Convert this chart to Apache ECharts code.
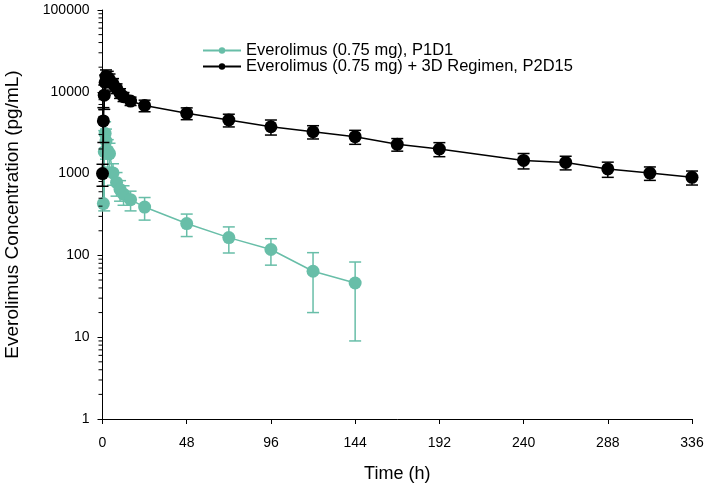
<!DOCTYPE html>
<html>
<head>
<meta charset="utf-8">
<script src="https://cdn.jsdelivr.net/npm/echarts@6/dist/echarts.min.js"></script>
<style>html,body{margin:0;padding:0;background:#fff;}#c{width:709px;height:492px;}</style>
</head>
<body>
<div id="c"></div>
<script>
// ---- data ----
const xTicks = [0, 48, 96, 144, 192, 240, 288, 336];
const yTickLabels = [1, 10, 100, 1000, 10000, 100000];
const minorMultipliers = [2, 3, 4, 5, 6, 7, 8, 9];

const nameP1 = 'Everolimus (0.75 mg), P1D1';
const timeP1 = [0.5, 1, 1.5, 2, 3, 4, 6, 8, 10, 12, 16, 24, 48, 72, 96, 120, 144];
const concP1 = [430, 1850, 3100, 2500, 1900, 1750, 1020, 780, 640, 560, 480, 390, 245, 165, 118, 64, 46];
const sdP1   = [500, 1500, 1200, 1000, 700, 600, 300, 250, 180, 150, 130, 120, 75, 58, 42, 44, 37];

const nameP2 = 'Everolimus (0.75 mg) + 3D Regimen, P2D15';
const timeP2 = [0, 0.5, 1, 1.5, 2, 3, 4, 6, 8, 10, 12, 16, 24, 48, 72, 96, 120, 144, 168, 192, 240, 264, 288, 312, 336];
const concP2 = [1000, 4400, 9100, 13000, 15500, 15000, 14000, 12500, 11000, 9600, 8700, 7700, 6800, 5460, 4520, 3740, 3250, 2830, 2280, 2000, 1450, 1370, 1140, 1016, 900];
const sdP2   = [300, 2000, 3000, 3000, 3000, 2800, 2500, 2000, 1500, 1300, 1100, 900, 1100, 900, 800, 780, 600, 550, 400, 390, 310, 260, 240, 190, 175];

const colP1 = '#68bea8';
const colP2 = '#000000';
const font = 'Arial, "Liberation Sans", sans-serif';

// ---- build ----
const lineP1 = timeP1.map((t, i) => [t, concP1[i]]);
const lineP2 = timeP2.map((t, i) => [t, concP2[i]]);
const errP1 = timeP1.map((t, i) => [t, concP1[i], sdP1[i]]);
const errP2 = timeP2.map((t, i) => [t, concP2[i], sdP2[i]]);

const minorData = [];
for (let k = 0; k < yTickLabels.length - 1; k++) {
  minorMultipliers.forEach(m => minorData.push([0, m * yTickLabels[k]]));
}

function errRender(color) {
  return function (params, api) {
    const x = api.value(0), m = api.value(1), sd = api.value(2);
    const top = api.coord([x, m + sd]);
    const mid = api.coord([x, m]);
    const low = m - sd;
    const bot = low > 0 ? api.coord([x, low]) : null;
    const hw = 6;
    const st = { stroke: color, lineWidth: 1.5 };
    const ch = [
      { type: 'line', shape: { x1: top[0], y1: top[1], x2: top[0], y2: bot ? bot[1] : mid[1] }, style: st },
      { type: 'line', shape: { x1: top[0] - hw, y1: top[1], x2: top[0] + hw, y2: top[1] }, style: st }
    ];
    if (bot) ch.push({ type: 'line', shape: { x1: bot[0] - hw, y1: bot[1], x2: bot[0] + hw, y2: bot[1] }, style: st });
    return { type: 'group', children: ch };
  };
}

const legendBase = {
  left: 197, orient: 'vertical',
  itemWidth: 38, itemHeight: 8,
  textStyle: { fontSize: 16.5, color: '#000', fontFamily: font }
};

const chart = echarts.init(document.getElementById('c'), null, { renderer: 'canvas' });
chart.setOption({
  animation: false,
  backgroundColor: '#fff',
  grid: { left: 102.5, right: 17, top: 10, bottom: 73, containLabel: false, outerBoundsMode: 'none' },
  legend: [
    Object.assign({}, legendBase, { top: 37, data: [nameP1] }),
    Object.assign({}, legendBase, { top: 53, data: [nameP2] })
  ],
  xAxis: {
    type: 'value', min: 0, max: 336, interval: 48,
    name: 'Time (h)', nameLocation: 'middle', nameGap: 46,
    nameTextStyle: { fontSize: 18, color: '#000', fontFamily: font },
    axisLine: { lineStyle: { color: '#000', width: 1 } },
    axisTick: { show: true, length: 5, lineStyle: { color: '#000' } },
    axisLabel: { fontSize: 14, color: '#000', fontFamily: font, margin: 17 },
    splitLine: { show: false }
  },
  yAxis: {
    type: 'log', logBase: 10, min: 1, max: 100000, interval: 1,
    name: 'Everolimus Concentration (pg/mL)', nameLocation: 'middle', nameGap: 80,
    nameTextStyle: { fontSize: 19, color: '#000', fontFamily: font },
    axisLine: { show: true, lineStyle: { color: '#000', width: 1 } },
    axisTick: { show: true, length: 5, lineStyle: { color: '#000' } },
    axisLabel: { fontSize: 14, color: '#000', fontFamily: font, margin: 13,
      formatter: v => String(Math.round(v)) },
    splitLine: { show: false },
    minorTick: { show: false }
  },
  series: [
    {
      name: 'minorTicks', type: 'custom', silent: true, clip: false, z: 10,
      data: minorData, encode: { x: 0, y: 1 },
      renderItem: function (params, api) {
        const p = api.coord([api.value(0), api.value(1)]);
        return { type: 'group', children: [
          { type: 'line', shape: { x1: p[0] - 4, y1: p[1], x2: p[0], y2: p[1] },
            style: { stroke: '#000', lineWidth: 1 } }
        ] };
      }
    },
    {
      name: 'errP1', type: 'custom', silent: true, clip: false, z: 2,
      data: errP1, encode: { x: 0, y: 1 }, renderItem: errRender(colP1)
    },
    {
      name: nameP1, type: 'line', data: lineP1, z: 3,
      symbol: 'circle', symbolSize: 13, showAllSymbol: true,
      itemStyle: { color: colP1 }, lineStyle: { color: colP1, width: 1.5 }
    },
    {
      name: 'errP2', type: 'custom', silent: true, clip: false, z: 4,
      data: errP2, encode: { x: 0, y: 1 }, renderItem: errRender(colP2)
    },
    {
      name: nameP2, type: 'line', data: lineP2, z: 5,
      symbol: 'circle', symbolSize: 13, showAllSymbol: true,
      itemStyle: { color: colP2 }, lineStyle: { color: colP2, width: 1.5 }
    }
  ]
});
</script>
</body>
</html>
